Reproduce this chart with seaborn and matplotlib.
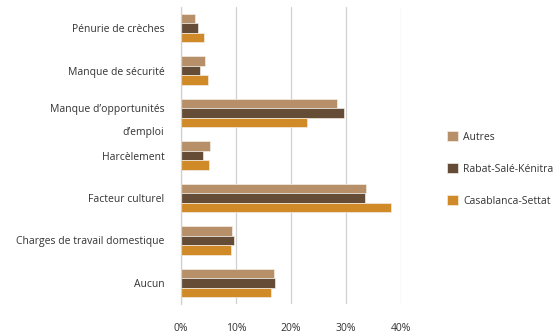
import matplotlib
matplotlib.use("Agg")
import matplotlib.pyplot as plt
from matplotlib.ticker import FixedLocator, PercentFormatter
import seaborn as sns
import pandas as pd

categories = [
    "Pénurie de crèches",
    "Manque de sécurité",
    "Manque d’opportunités\nd’emploi",
    "Harcèlement",
    "Facteur culturel",
    "Charges de travail domestique",
    "Aucun",
]
series = ["Autres", "Rabat-Salé-Kénitra", "Casablanca-Settat"]
autres = [2.6, 4.3, 28.4, 5.2, 33.7, 9.3, 16.9]
rabat = [3.0, 3.4, 29.7, 4.0, 33.4, 9.7, 17.1]
casa = [4.1, 4.9, 22.9, 5.1, 38.1, 9.0, 16.3]
x_ticks = [0, 10, 20, 30, 40]
colors = ["#B78F69", "#654C37", "#D08B28"]

rows = []
for name, vals in zip(series, [autres, rabat, casa]):
    for cat, v in zip(categories, vals):
        rows.append({"categorie": cat, "serie": name, "valeur": v})
df = pd.DataFrame(rows)

sns.set_style("white")
plt.rcParams["font.family"] = ["Open Sans", "DejaVu Sans"]
text_color = "#333333"
grid_color = "#D0D0D0"

fig = plt.figure(figsize=(5.53, 3.36), dpi=100)
ax = fig.add_axes([181 / 553, 32 / 336, 220 / 553, 297 / 336])

sns.barplot(
    data=df, y="categorie", x="valeur", hue="serie",
    order=categories, hue_order=series, palette=colors, saturation=1,
    width=0.67, orient="h", ax=ax, edgecolor="#F3EDE4", linewidth=0.5,
    errorbar=None, legend=True,
)

ax.set_xlim(0, 40)
ax.set_ylim(len(categories) - 0.5, -0.5)
ax.set_xticks(x_ticks)
ax.xaxis.set_major_formatter(PercentFormatter(decimals=0))
ax.set_xlabel("")
ax.set_ylabel("")
ax.set_axisbelow(True)
ax.grid(axis="x", color=grid_color, linewidth=0.9)

for side in ["top", "right", "bottom"]:
    ax.spines[side].set_visible(False)
ax.spines["left"].set_color(grid_color)
ax.spines["left"].set_linewidth(0.9)

ax.tick_params(axis="x", length=7, width=0.9, color=grid_color,
               labelsize=7.5, labelcolor=text_color, pad=7)
ax.tick_params(axis="y", which="major", length=0, labelsize=7.5,
               labelcolor=text_color, pad=12)
ax.yaxis.set_minor_locator(FixedLocator([i - 0.5 for i in range(len(categories) + 1)]))
ax.tick_params(axis="y", which="minor", length=5, width=0.9, color=grid_color)
for lbl in ax.get_yticklabels():
    lbl.set_linespacing(2.5)

handles, labels = ax.get_legend_handles_labels()
ax.legend(
    handles, labels, loc="center left", bbox_to_anchor=(438 / 553, 167 / 336),
    bbox_transform=fig.transFigure, frameon=False, fontsize=7.5,
    labelcolor=text_color, handlelength=1.0, handleheight=1.0,
    handletextpad=0.5, labelspacing=2.0,
)

fig.savefig("out.png", dpi=100)
